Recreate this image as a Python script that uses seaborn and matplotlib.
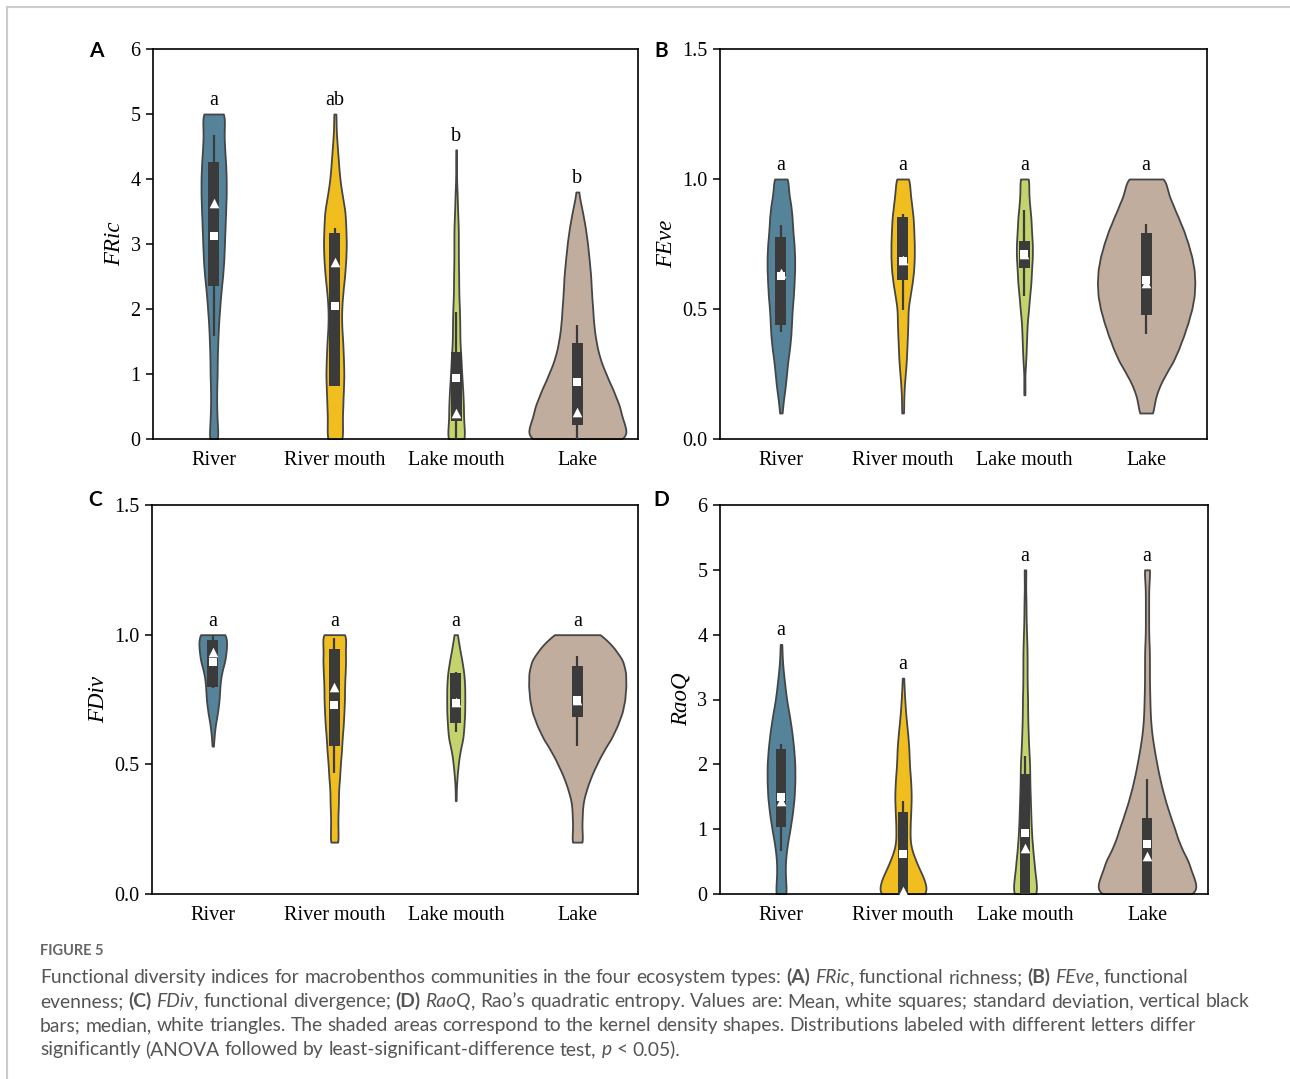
import numpy as np
import pandas as pd
import matplotlib
matplotlib.use("Agg")
import matplotlib.pyplot as plt
from matplotlib.lines import Line2D
import seaborn as sns

# ---------------- data ----------------
sites = ["River", "River mouth", "Lake mouth", "Lake"]
site_colors = ["#55839a", "#f0bf1f", "#c4d36b", "#c1ad9e"]

fric_levels = [0.0, 0.25, 0.5, 0.75, 1.0, 1.25, 1.5, 1.75, 2.0, 2.25, 2.5,
               2.75, 3.0, 3.25, 3.5, 3.75, 4.0, 4.25, 4.5, 4.75, 5.0]
fric_river = [7, 6, 5, 5, 6, 6, 7, 8, 10, 12, 15, 17, 18, 19, 20, 21, 21, 20, 18, 17, 19]
fric_rmouth = [13, 12, 13, 14, 15, 14, 13, 11, 11, 13, 16, 18, 19, 18, 17, 12, 8, 6, 4, 2, 1]
fric_lmouth = [25, 20, 20, 18, 15, 13, 10, 10, 9, 7, 7, 6, 6, 6, 4, 3, 1, 1, 0, 0, 0]
fric_lake = [170, 143, 133, 112, 89, 69, 58, 51, 48, 44, 42, 37, 32, 25, 16, 4, 0, 0, 0, 0, 0]
fric_min = [0.0, 0.0, 0.0, 0.0]
fric_max = [5.0, 5.0, 4.45, 3.8]
fric_mean = [3.13, 2.05, 0.94, 0.87]
fric_median = [3.63, 2.72, 0.40, 0.41]
fric_q1 = [2.36, 0.82, 0.27, 0.22]
fric_q3 = [4.26, 3.17, 1.34, 1.48]
fric_wlo = [1.59, 0.82, 0.0, 0.0]
fric_whi = [4.67, 3.25, 1.96, 1.76]
fric_letters = ["a", "ab", "b", "b"]

unit_levels = [0.0, 0.05, 0.1, 0.15, 0.2, 0.25, 0.3, 0.35, 0.4, 0.45, 0.5,
               0.55, 0.6, 0.65, 0.7, 0.75, 0.8, 0.85, 0.9, 0.95, 1.0]
feve_river = [0, 0, 1, 4, 7, 9, 11, 14, 16, 17, 18, 20, 21, 22, 22, 21, 19, 18, 16, 12, 11]
feve_rmouth = [0, 0, 1, 2, 3, 5, 7, 8, 9, 10, 10, 14, 18, 21, 22, 22, 21, 20, 17, 14, 12]
feve_lmouth = [0, 0, 0, 0, 1, 1, 3, 4, 5, 6, 9, 11, 14, 15, 17, 17, 15, 14, 11, 9, 9]
feve_lake = [0, 0, 11, 14, 21, 32, 45, 54, 62, 69, 75, 79, 80, 79, 75, 69, 62, 53, 44, 35, 32]
feve_min = [0.1, 0.1, 0.17, 0.1]
feve_max = [1.0, 1.0, 1.0, 1.0]
feve_mean = [0.625, 0.683, 0.713, 0.613]
feve_median = [0.64, 0.69, 0.71, 0.60]
feve_q1 = [0.437, 0.61, 0.658, 0.478]
feve_q3 = [0.776, 0.853, 0.76, 0.792]
feve_wlo = [0.41, 0.497, 0.549, 0.404]
feve_whi = [0.822, 0.867, 0.882, 0.827]
feve_letters = ["a", "a", "a", "a"]

fdiv_river = [0, 0, 0, 0, 0, 0, 0, 0, 0, 0, 0, 0, 4, 9, 18, 24, 26, 31, 46, 51, 53]
fdiv_rmouth = [0, 0, 0, 0, 6, 6, 6, 7, 7, 9, 10, 12, 13, 15, 16, 17, 17, 18, 19, 18, 20]
fdiv_lmouth = [0, 0, 0, 0, 0, 0, 0, 0, 1, 3, 6, 10, 18, 20, 22, 22, 22, 20, 15, 9, 3]
fdiv_lake = [0, 0, 0, 0, 11, 9, 10, 11, 18, 27, 39, 52, 69, 81, 91, 96, 98, 98, 93, 74, 49]
fdiv_min = [0.57, 0.2, 0.36, 0.2]
fdiv_max = [1.0, 1.0, 1.0, 1.0]
fdiv_mean = [0.895, 0.728, 0.737, 0.747]
fdiv_median = [0.933, 0.80, 0.74, 0.75]
fdiv_q1 = [0.80, 0.57, 0.66, 0.683]
fdiv_q3 = [0.978, 0.946, 0.854, 0.878]
fdiv_wlo = [0.796, 0.465, 0.623, 0.572]
fdiv_whi = [0.997, 0.987, 0.856, 0.918]
fdiv_letters = ["a", "a", "a", "a"]

raoq_levels = fric_levels
raoq_river = [9, 7, 7, 10, 15, 19, 22, 23, 23, 21, 18, 14, 9, 6, 3, 1, 0, 0, 0, 0, 0]
raoq_rmouth = [76, 59, 37, 20, 20, 22, 24, 22, 18, 17, 13, 8, 5, 2, 0, 0, 0, 0, 0, 0, 0]
raoq_lmouth = [24, 20, 17, 14, 12, 11, 10, 9, 9, 7, 6, 5, 5, 4, 4, 4, 3, 2, 2, 1, 1]
raoq_lake = [133, 113, 102, 80, 68, 54, 42, 32, 24, 17, 11, 8, 7, 6, 6, 6, 4, 4, 4, 4, 7]
raoq_min = [0.0, 0.0, 0.0, 0.0]
raoq_max = [3.85, 3.33, 5.0, 5.0]
raoq_mean = [1.50, 0.62, 0.94, 0.77]
raoq_median = [1.43, 0.04, 0.71, 0.58]
raoq_q1 = [1.03, 0.0, 0.0, 0.0]
raoq_q3 = [2.23, 1.27, 1.85, 1.17]
raoq_wlo = [0.66, 0.0, 0.0, 0.0]
raoq_whi = [2.32, 1.43, 2.13, 1.77]
raoq_letters = ["a", "a", "a", "a"]

# ---------------- style ----------------
W, H = 1290, 1079
SERIF = ["Liberation Serif", "DejaVu Serif"]
plt.rcParams["font.family"] = SERIF
plt.rcParams["axes.linewidth"] = 1.2
BOX = "#3b3b3b"
EDGE = "#454545"
TICK_FS = 14.5

fig = plt.figure(figsize=(W / 100, H / 100), dpi=100)


def frame(levels, counts_list, mins, maxs):
    rows = []
    for site, counts, lo, hi in zip(sites, counts_list, mins, maxs):
        vals = list(np.repeat(levels, counts)) + [lo, hi]
        rows += [(site, float(v)) for v in vals]
    return pd.DataFrame(rows, columns=["site", "value"])


def draw_violins(ax, df, sigma, width):
    sns.violinplot(data=df, x="site", y="value", hue="site", order=sites,
                   hue_order=sites, palette=site_colors, saturation=1, cut=0,
                   density_norm="count", common_norm=True, inner=None,
                   width=width, linewidth=1.3, linecolor=EDGE, gridsize=200,
                   bw_method=lambda k: sigma / np.std(k.dataset, ddof=1),
                   legend=False, ax=ax)


def halfwidths(ax):
    out = []
    for c in ax.collections:
        for p in c.get_paths():
            v = p.vertices
            if len(v):
                out.append((v[:, 0].max() - v[:, 0].min()) / 2)
    return out


def panel(rect, df, sigma, mean, median, q1, q3, wlo, whi, maxs, letters,
          ylabel, ylim, yticks, yticklabels):
    ax = fig.add_axes(rect)
    draw_violins(ax, df, sigma, 0.8)
    half = max(halfwidths(ax))
    ax.cla()
    draw_violins(ax, df, sigma, 0.8 * 0.4 / half)
    x = np.arange(len(sites))
    ax.vlines(x, wlo, whi, color=BOX, lw=1.6, zorder=3)
    ax.bar(x, np.subtract(q3, q1), bottom=q1, width=0.09, color=BOX, zorder=4)
    ax.scatter(x, median, marker="^", s=48, color="white", linewidths=0, zorder=5)
    ax.scatter(x, mean, marker="s", s=26, color="white", linewidths=0, zorder=6)
    for i, (lt, top) in enumerate(zip(letters, maxs)):
        ax.annotate(lt, (i, top), xytext=(0, 3), textcoords="offset points",
                    ha="center", va="bottom", fontsize=TICK_FS, family=SERIF)
    ax.set_xlim(-0.5, 3.5)
    ax.set_ylim(*ylim)
    ax.set_yticks(yticks, yticklabels)
    ax.set_xlabel("")
    ax.set_ylabel(ylabel, fontsize=16.5, fontstyle="italic", family=SERIF)
    ax.tick_params(axis="y", direction="out", length=5, width=1.1,
                   labelsize=TICK_FS, pad=4)
    ax.tick_params(axis="x", length=0, labelsize=TICK_FS, pad=9)
    for s in ax.spines.values():
        s.set_visible(True)
        s.set_color("black")
        s.set_linewidth(1.2)
    return ax


def rect(l, r, t, b):
    return [l / W, 1 - b / H, (r - l) / W, (b - t) / H]


ticks6 = [0, 1, 2, 3, 4, 5, 6]
labels6 = ["0", "1", "2", "3", "4", "5", "6"]
ticks15 = [0.0, 0.5, 1.0, 1.5]
labels15 = ["0.0", "0.5", "1.0", "1.5"]

panel(rect(153, 638, 49, 439),
      frame(fric_levels, [fric_river, fric_rmouth, fric_lmouth, fric_lake], fric_min, fric_max),
      0.15, fric_mean, fric_median, fric_q1, fric_q3, fric_wlo, fric_whi, fric_max,
      fric_letters, "FRic", (0, 6), ticks6, labels6)
panel(rect(720, 1207, 49, 439),
      frame(unit_levels, [feve_river, feve_rmouth, feve_lmouth, feve_lake], feve_min, feve_max),
      0.03, feve_mean, feve_median, feve_q1, feve_q3, feve_wlo, feve_whi, feve_max,
      feve_letters, "FEve", (0, 1.5), ticks15, labels15)
panel(rect(152, 638, 505, 894),
      frame(unit_levels, [fdiv_river, fdiv_rmouth, fdiv_lmouth, fdiv_lake], fdiv_min, fdiv_max),
      0.03, fdiv_mean, fdiv_median, fdiv_q1, fdiv_q3, fdiv_wlo, fdiv_whi, fdiv_max,
      fdiv_letters, "FDiv", (0, 1.5), ticks15, labels15)
panel(rect(720, 1208, 505, 894),
      frame(raoq_levels, [raoq_river, raoq_rmouth, raoq_lmouth, raoq_lake], raoq_min, raoq_max),
      0.15, raoq_mean, raoq_median, raoq_q1, raoq_q3, raoq_wlo, raoq_whi, raoq_max,
      raoq_letters, "RaoQ", (0, 6), ticks6, labels6)

# panel letters
SANS = ["Lato", "DejaVu Sans"]
for lt, px, py in [("A", 96, 51), ("B", 661, 51), ("C", 95, 500), ("D", 661, 500)]:
    fig.text(px / W, 1 - py / H, lt, family=SANS, fontweight="bold", fontsize=15,
             ha="center", va="center")

# page frame lines
fig.add_artist(Line2D([7 / W, 1], [1 - 7 / H, 1 - 7 / H], transform=fig.transFigure,
                      color="#cccccc", lw=1.5))
fig.add_artist(Line2D([7 / W, 7 / W], [0, 1 - 7 / H], transform=fig.transFigure,
                      color="#cccccc", lw=1.5))

# caption
CAP_FS = 13.9
CAP_COLOR = "#555555"
fig.text(40 / W, 1 - 955 / H, "FIGURE 5", family=SANS, fontweight="bold",
         fontsize=10.5, color="#666666", ha="left", va="baseline")

caption_lines = [
    [("Functional diversity indices for macrobenthos communities in the four ecosystem types:", "r"),
     (" (A)", "b"), (" FRic", "i"), (", functional richness;", "r"), (" (B)", "b"),
     (" FEve", "i"), (", functional", "r")],
    [("evenness;", "r"), (" (C)", "b"), (" FDiv", "i"), (", functional divergence;", "r"),
     (" (D)", "b"), (" RaoQ", "i"),
     (", Rao\u2019s quadratic entropy. Values are: Mean, white squares; standard deviation, vertical black", "r")],
    [("bars; median, white triangles. The shaded areas correspond to the kernel density shapes. Distributions labeled with different letters differ", "r")],
    [("significantly (ANOVA followed by least-significant-difference test,", "r"), (" p", "i"),
     (" < 0.05).", "r")],
]
line_base = [983, 1007, 1031, 1055]

renderer = fig.canvas.get_renderer()


def style_kw(st):
    kw = dict(family=SANS, fontsize=CAP_FS, color=CAP_COLOR, ha="left", va="baseline")
    if st == "b":
        kw["fontweight"] = "bold"
    if st == "i":
        kw["fontstyle"] = "italic"
    return kw


t1 = fig.text(0, 0, "x x", **style_kw("r"))
t2 = fig.text(0, 0, "xx", **style_kw("r"))
space_w = t1.get_window_extent(renderer).width - t2.get_window_extent(renderer).width
t1.remove()
t2.remove()

for segs, ly in zip(caption_lines, line_base):
    xpix = 40.0
    for text, st in segs:
        parts = text.split(" ")
        for k, part in enumerate(parts):
            if k > 0:
                xpix += space_w
            if part:
                t = fig.text(xpix / W, 1 - ly / H, part, **style_kw(st))
                xpix = t.get_window_extent(renderer).x1

fig.savefig("out.png", dpi=100)
